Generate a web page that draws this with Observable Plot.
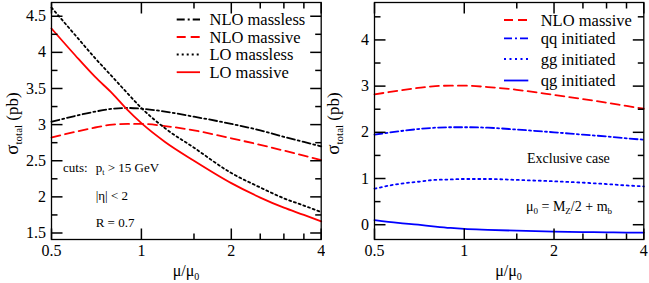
<!DOCTYPE html>
<html><head><meta charset="utf-8">
<script src="https://cdn.jsdelivr.net/npm/d3@7"></script>
<script src="https://cdn.jsdelivr.net/npm/@observablehq/plot@0.6"></script>
<style>
html,body{margin:0;padding:0;background:#fff;}
#wrap{display:flex;width:649px;height:283px;overflow:hidden;}
#wrap svg{overflow:visible;display:block;font-family:"Liberation Serif","Times New Roman",serif !important;}
#wrap svg text{font-family:"Liberation Serif","Times New Roman",serif !important;}
</style></head><body><div id="wrap"></div>
<script>
// ---- data ----
const mu = [0.5, 0.6, 0.7, 0.8, 0.9, 1.0, 1.2, 1.5, 2, 2.5, 3, 3.5, 4];
const nloMassless = [3.04, 3.12, 3.18, 3.22, 3.23, 3.22, 3.18, 3.11, 3.01, 2.92, 2.83, 2.76, 2.70];
const nloMassive  = [2.82, 2.90, 2.96, 3.00, 3.01, 3.01, 2.98, 2.92, 2.81, 2.72, 2.64, 2.57, 2.51];
const loMassless  = [4.62, 4.24, 3.92, 3.66, 3.43, 3.23, 2.95, 2.68, 2.33, 2.13, 1.98, 1.88, 1.79];
const loMassive   = [4.33, 3.96, 3.66, 3.43, 3.20, 3.02, 2.76, 2.50, 2.19, 1.99, 1.85, 1.75, 1.66];
const qqInit = [1.95, 2.02, 2.07, 2.10, 2.11, 2.11, 2.10, 2.06, 2.00, 1.95, 1.91, 1.87, 1.84];
const ggInit = [0.78, 0.88, 0.93, 0.97, 0.98, 0.99, 0.99, 0.97, 0.94, 0.91, 0.88, 0.85, 0.83];
const qgInit = [0.10, 0.04, 0.00, -0.04, -0.07, -0.09, -0.11, -0.13, -0.15, -0.16, -0.165, -0.17, -0.17];

const xMajor = [0.5, 1, 2, 4];
const xMinor = [1.5, 2.5, 3, 3.5];
const yMajorL = [1.5, 2, 2.5, 3, 3.5, 4, 4.5];
const yMinorL = [1.75, 2.25, 2.75, 3.25, 3.75, 4.25];
const yMajorR = [0, 1, 2, 3, 4];
const yMinorR = [0.5, 1.5, 2.5, 3.5, 4.5];

const leftSeries = [
  {name: "NLO massless", values: nloMassless, color: "#000000", dash: "8,3,2,3"},
  {name: "NLO massive",  values: nloMassive,  color: "#ff0000", dash: "9,5"},
  {name: "LO massless",  values: loMassless,  color: "#000000", dash: "2,3"},
  {name: "LO massive",   values: loMassive,   color: "#ff0000", dash: null}
];
const rightSeries = [
  {name: "NLO massive",  values: nloMassive, color: "#ff0000", dash: "9,5"},
  {name: "qq initiated", values: qqInit,     color: "#0000ff", dash: "8,3,2,3"},
  {name: "gg initiated", values: ggInit,     color: "#0000ff", dash: "2,3.5"},
  {name: "qg initiated", values: qgInit,     color: "#0000ff", dash: null}
];

const rows = vals => mu.map((m, i) => ({mu: m, v: vals[i]}));
const fmt = d => String(d);

const H = 283, MT = 2, MB = 44, IH = H - MT - MB;
function panel({width, marginLeft, marginRight, yDomain, yMaj, yMin, series}) {
  const [ya, yb] = yDomain;
  const iw = width - marginLeft - marginRight;
  const dyPx = (yb - ya) / IH;                 // data units per pixel (y)
  const lx = px => 0.5 * Math.pow(8, px / iw); // log-x offset from left edge
  const rx = px => 4 / Math.pow(8, px / iw);   // log-x offset from right edge
  const tick = {stroke: "#000", strokeWidth: 1.5};
  const xt = (vals, len) => [
    Plot.link(vals, {x1: d => d, x2: d => d, y1: ya, y2: ya + len * dyPx, ...tick}),
    Plot.link(vals, {x1: d => d, x2: d => d, y1: yb, y2: yb - len * dyPx, ...tick})
  ];
  const yt = (vals, len) => [
    Plot.link(vals, {y1: d => d, y2: d => d, x1: 0.5, x2: lx(len), ...tick}),
    Plot.link(vals, {y1: d => d, y2: d => d, x1: 4, x2: rx(len), ...tick})
  ];
  const marks = [
    ...series.map(s => Plot.line(rows(s.values), {
      x: "mu", y: "v", stroke: s.color, strokeWidth: 1.8,
      strokeDasharray: s.dash, curve: "monotone-x"
    })),
    ...xt(xMajor, 11), ...xt(xMinor, 6), ...yt(yMaj, 11), ...yt(yMin, 6),
    Plot.text(xMajor, {x: d => d, text: fmt, frameAnchor: "bottom", lineAnchor: "top", dy: 5.5, fontSize: 16, fill: "#000"}),
    Plot.text(yMaj, {y: d => d, text: fmt, frameAnchor: "left", textAnchor: "end", dx: -5.5, fontSize: 16, fill: "#000"}),
    Plot.frame({stroke: "#000", strokeWidth: 1.3})
  ];
  return Plot.plot({
    width, height: H, marginLeft, marginRight, marginTop: MT, marginBottom: MB,
    x: {type: "log", domain: [0.5, 4], axis: null},
    y: {domain: yDomain, axis: null},
    style: "font-family: 'Liberation Serif', serif; font-size: 16px; background: #fff; overflow: visible;",
    marks
  });
}

function yLabel(svg, x, y) {
  const t = d3.select(svg).append("text")
    .attr("transform", `translate(${x},${y}) rotate(-90)`)
    .attr("text-anchor", "middle").attr("fill", "#000")
    .style("font-size", "17px");
  t.append("tspan").text("σ").style("font-size", "19px");
  t.append("tspan").text("total").attr("dy", 4).style("font-size", "11px");
  t.append("tspan").text(" (pb)").attr("dy", -4);
}
function xLabel(svg, x, y) {
  const t = d3.select(svg).append("text").attr("x", x).attr("y", y)
    .attr("text-anchor", "middle").attr("fill", "#000").style("font-size", "16px");
  t.append("tspan").text("μ/μ");
  t.append("tspan").text("0").attr("dy", 4).style("font-size", "10px");
}
function legend(svg, series, x0, x1, tx, lineYs, textYs) {
  const g = d3.select(svg).append("g");
  series.forEach((s, i) => {
    g.append("line").attr("x1", x0).attr("x2", x1).attr("y1", lineYs[i]).attr("y2", lineYs[i])
      .attr("stroke", s.color).attr("stroke-width", 1.8)
      .attr("stroke-dasharray", s.dash);
    g.append("text").attr("x", tx).attr("y", textYs[i]).attr("fill", "#000")
      .attr("text-anchor", "start").style("font-size", "16.5px").text(s.name);
  });
}
function txt(sel, x, y, size) {
  return sel.append("text").attr("x", x).attr("y", y).attr("text-anchor", "start")
    .attr("fill", "#000").style("font-size", size);
}

const wrap = document.getElementById("wrap");

// Left panel
const left = panel({width: 325, marginLeft: 51, marginRight: 4.3, yDomain: [1.41, 4.69],
  yMaj: yMajorL, yMin: yMinorL, series: leftSeries});
wrap.appendChild(left);
yLabel(left, 17.5, 123.5);
xLabel(left, 186, 275.5);
legend(left, leftSeries, 176.7, 200, 209.5, [19.5, 37, 54.5, 72.2], [25, 42.5, 60, 77.7]);
{
  const s = d3.select(left);
  txt(s, 63, 171.5, "13px").text("cuts:");
  const t = txt(s, 95.7, 171.5, "13px");
  t.append("tspan").text("p");
  t.append("tspan").text("t").attr("dy", 3).style("font-size", "8px");
  t.append("tspan").text(" > 15 GeV").attr("dy", -3);
  txt(s, 95.7, 199.5, "13px").text("|η| < 2");
  txt(s, 95.7, 226.5, "13px").text("R = 0.7");
}

// Right panel
const right = panel({width: 324, marginLeft: 49, marginRight: 5.7, yDomain: [-0.32, 4.81],
  yMaj: yMajorR, yMin: yMinorR, series: rightSeries});
wrap.appendChild(right);
yLabel(right, 14, 123.5);
xLabel(right, 183.5, 275.5);
legend(right, rightSeries, 179, 203.3, 215.7, [20, 38.3, 59, 80.5], [25.5, 43.5, 64.5, 86]);
{
  const s = d3.select(right);
  txt(s, 202, 162.5, "14px").text("Exclusive case");
  const t = txt(s, 201, 210.5, "14px");
  t.append("tspan").text("μ");
  t.append("tspan").text("0").attr("dy", 3).style("font-size", "9px");
  t.append("tspan").text(" = M").attr("dy", -3);
  t.append("tspan").text("Z").attr("dy", 3).style("font-size", "9px");
  t.append("tspan").text("/2 + m").attr("dy", -3);
  t.append("tspan").text("b").attr("dy", 3).style("font-size", "9px");
}
</script></body></html>
